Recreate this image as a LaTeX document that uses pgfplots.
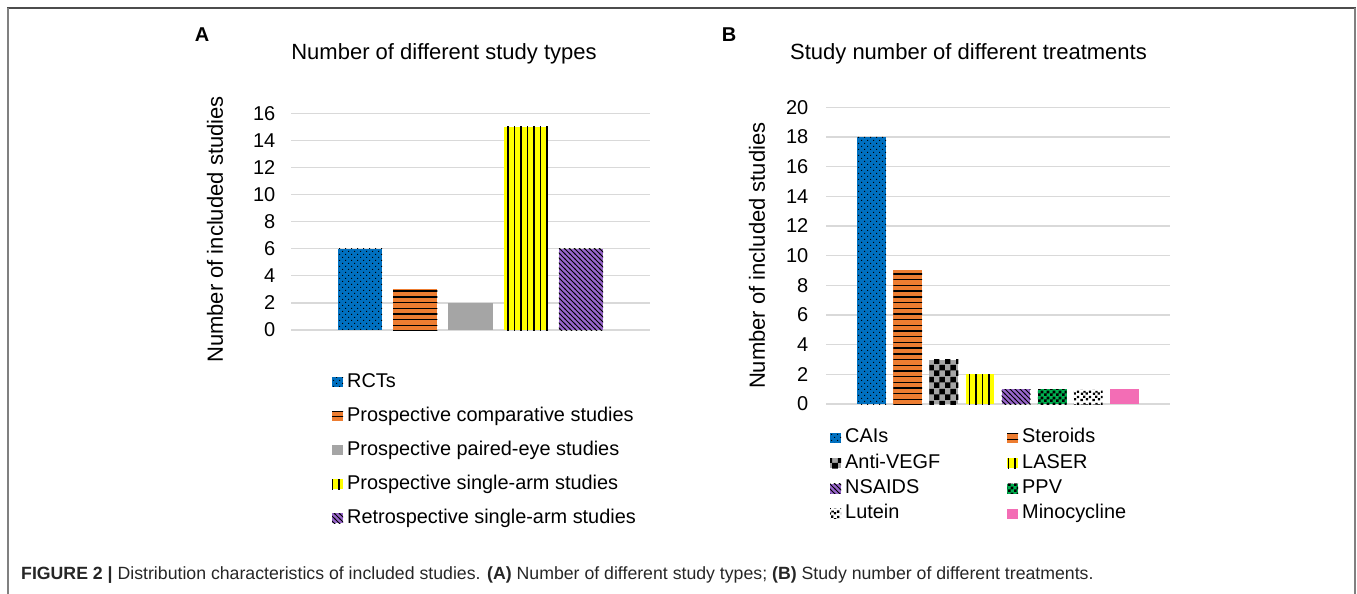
\documentclass[border=0pt]{standalone}
\usepackage{fontspec}
\setmainfont{Liberation Sans}
\usepackage{pgfplots}
\pgfplotsset{compat=1.18}
\usetikzlibrary{patterns}

\definecolor{cBlue}{HTML}{0070C0}
\definecolor{cOrange}{HTML}{ED7D31}
\definecolor{cGray}{HTML}{A5A5A5}
\definecolor{cYellow}{HTML}{FFFF00}
\definecolor{cPurple}{HTML}{9966CC}
\definecolor{cGreen}{HTML}{00B050}
\definecolor{cPink}{HTML}{F36DB5}
\definecolor{gridgray}{HTML}{D9D9D9}

% spreadsheet-like pattern fills (tiles overlap slightly to avoid seams)
\pgfdeclarepatternformonly{fineDots}{\pgfqpoint{-1pt}{-1pt}}{\pgfqpoint{7pt}{7pt}}{\pgfqpoint{6pt}{6pt}}{%
  \pgfpathrectangle{\pgfqpoint{0pt}{0pt}}{\pgfqpoint{1.2pt}{1.2pt}}%
  \pgfpathrectangle{\pgfqpoint{3pt}{3pt}}{\pgfqpoint{1.2pt}{1.2pt}}%
  \pgfusepath{fill}}
\pgfdeclarepatternformonly{wideHoriz}{\pgfqpoint{-0.5pt}{0pt}}{\pgfqpoint{6.2pt}{5.7pt}}{\pgfqpoint{5.7pt}{5.7pt}}{%
  \pgfpathrectangle{\pgfqpoint{-0.5pt}{0pt}}{\pgfqpoint{6.7pt}{1.4pt}}%
  \pgfusepath{fill}}
\pgfdeclarepatternformonly{wideVert}{\pgfqpoint{0pt}{-0.5pt}}{\pgfqpoint{6.5pt}{7pt}}{\pgfqpoint{6.5pt}{6.5pt}}{%
  \pgfpathrectangle{\pgfqpoint{0pt}{-0.5pt}}{\pgfqpoint{1.5pt}{7.5pt}}%
  \pgfusepath{fill}}
\pgfdeclarepatternformonly{wideDownDiag}{\pgfqpoint{-1pt}{-1pt}}{\pgfqpoint{6pt}{6pt}}{\pgfqpoint{5pt}{5pt}}{%
  \pgfsetlinewidth{1.0pt}%
  \pgfpathmoveto{\pgfqpoint{-1pt}{6pt}}\pgfpathlineto{\pgfqpoint{6pt}{-1pt}}%
  \pgfusepath{stroke}}
\pgfdeclarepatternformonly{bigChecker}{\pgfqpoint{0pt}{0pt}}{\pgfqpoint{11.4pt}{11.4pt}}{\pgfqpoint{11.4pt}{11.4pt}}{%
  \pgfpathrectangle{\pgfqpoint{0pt}{0pt}}{\pgfqpoint{5.7pt}{5.7pt}}%
  \pgfpathrectangle{\pgfqpoint{5.7pt}{5.7pt}}{\pgfqpoint{5.7pt}{5.7pt}}%
  \pgfusepath{fill}}
\pgfdeclarepatternformonly{smallChecker}{\pgfqpoint{0pt}{0pt}}{\pgfqpoint{6pt}{6pt}}{\pgfqpoint{6pt}{6pt}}{%
  \pgfpathrectangle{\pgfqpoint{0pt}{0pt}}{\pgfqpoint{3pt}{3pt}}%
  \pgfpathrectangle{\pgfqpoint{3pt}{3pt}}{\pgfqpoint{3pt}{3pt}}%
  \pgfusepath{fill}}
\pgfdeclarepatternformonly{confetti}{\pgfqpoint{0pt}{0pt}}{\pgfqpoint{12pt}{12pt}}{\pgfqpoint{12pt}{12pt}}{%
  \pgfpathrectangle{\pgfqpoint{0.5pt}{0.8pt}}{\pgfqpoint{2.4pt}{2.4pt}}%
  \pgfpathrectangle{\pgfqpoint{6.2pt}{1.6pt}}{\pgfqpoint{2.4pt}{2.4pt}}%
  \pgfpathrectangle{\pgfqpoint{3.2pt}{4.4pt}}{\pgfqpoint{2.4pt}{2.4pt}}%
  \pgfpathrectangle{\pgfqpoint{9.4pt}{4.0pt}}{\pgfqpoint{2.4pt}{2.4pt}}%
  \pgfpathrectangle{\pgfqpoint{0.8pt}{7.6pt}}{\pgfqpoint{2.4pt}{2.4pt}}%
  \pgfpathrectangle{\pgfqpoint{6.0pt}{7.8pt}}{\pgfqpoint{2.4pt}{2.4pt}}%
  \pgfpathrectangle{\pgfqpoint{3.6pt}{9.9pt}}{\pgfqpoint{2.4pt}{1.8pt}}%
  \pgfpathrectangle{\pgfqpoint{9.3pt}{9.6pt}}{\pgfqpoint{2.4pt}{2.4pt}}%
  \pgfusepath{fill}}

\pgfplotsset{
  panel/.style={
    scale only axis, ybar, ymin=0,
    axis line style={draw=none}, major tick length=0pt, tick style={draw=none},
    xtick=\empty, ymajorgrids, grid style={line width=1.3pt, draw=gridgray},
    tick label style={font=\fontsize{20pt}{24pt}\selectfont},
    /pgf/number format/assume math mode=true,
    yticklabel style={anchor=east, inner sep=0pt},
    label style={font=\fontsize{22pt}{26pt}\selectfont},
    title style={font=\fontsize{22pt}{26pt}\selectfont, anchor=center},
    legend cell align=left,
    legend style={draw=none, fill=none, inner sep=0pt,
      font=\fontsize{19.9pt}{23pt}\selectfont,
      nodes={inner sep=0pt, text height=15pt, text depth=5pt}},
  },
  onebar/.style={bar shift=0pt, bar width=0.8, draw=none,
    legend image code/.code={\fill[##1] (0pt,-5pt) rectangle (11pt,5pt); \path (15pt,0pt);}},
  sBlueDots/.style={fill=cBlue, postaction={pattern=fineDots, pattern color=black}},
  sOrangeLines/.style={fill=cOrange, postaction={pattern=wideHoriz, pattern color=black}},
  sGraySolid/.style={fill=cGray},
  sYellowLines/.style={fill=cYellow, postaction={pattern=wideVert, pattern color=black}},
  sPurpleDiag/.style={fill=cPurple, postaction={pattern=wideDownDiag, pattern color=black}},
  sChecker/.style={fill=cGray, postaction={pattern=bigChecker, pattern color=black}},
  sGreenChecker/.style={fill=cGreen, postaction={pattern=smallChecker, pattern color=black}},
  sConfetti/.style={fill=white, postaction={pattern=confetti, pattern color=black}},
  sPink/.style={fill=cPink},
}

\begin{document}
\begin{tikzpicture}
\useasboundingbox (0pt,0pt) rectangle (1357pt,-594pt);

% outer frame
\draw[black!70, line width=1.4pt] (7pt,-8pt) -- (1356pt,-8pt);
\draw[black!50, line width=2pt] (7.5pt,-8pt) -- (7.5pt,-594pt);
\draw[black!50, line width=2pt] (1355.3pt,-8pt) -- (1355.3pt,-594pt);

% panel A: study types
\begin{axis}[panel,
  at={(291pt,-330pt)}, anchor=south west,
  width=359pt, height=216.7pt,
  xmin=-0.25, xmax=6.25, ymax=16, ytick={0,2,...,16},
  yticklabel style={xshift=-15.5pt},
  ylabel={Number of included studies},
  ylabel style={at={(axis description cs:-0.2117,0.4638)}, anchor=center},
  title={Number of different study types},
  title style={at={(axis description cs:0.4262,1.246)}},
  legend style={at={(axis description cs:0.1142,-0.1938)}, anchor=north west, row sep=14pt},
]
\addplot[onebar, sBlueDots] coordinates {(1,6)};
\addlegendentry{RCTs}
\addplot[onebar, sOrangeLines] coordinates {(2,3)};
\addlegendentry{Prospective comparative studies}
\addplot[onebar, sGraySolid] coordinates {(3,2)};
\addlegendentry{Prospective paired-eye studies}
\addplot[onebar, sYellowLines] coordinates {(4,15)};
\addlegendentry{Prospective single-arm studies}
\addplot[onebar, sPurpleDiag] coordinates {(5,6)};
\addlegendentry{Retrospective single-arm studies}
\end{axis}

% panel B: treatments
\begin{axis}[panel,
  at={(826pt,-404pt)}, anchor=south west,
  width=344pt, height=296.7pt,
  xmin=-0.265, xmax=9.265, ymax=20, ytick={0,2,...,20},
  yticklabel style={xshift=-17.5pt},
  ylabel={Number of included studies},
  ylabel style={at={(axis description cs:-0.2006,0.5)}, anchor=center},
  title={Study number of different treatments},
  title style={at={(axis description cs:0.4142,1.1594)}},
  legend columns=2,
  legend style={at={(axis description cs:0.01163,-0.0799)}, anchor=north west, row sep=5.3pt,
    nodes={text width=162pt}},
]
\addplot[onebar, sBlueDots] coordinates {(1,18)};
\addlegendentry{CAIs}
\addplot[onebar, sOrangeLines] coordinates {(2,9)};
\addlegendentry{Steroids}
\addplot[onebar, sChecker] coordinates {(3,3)};
\addlegendentry{Anti-VEGF}
\addplot[onebar, sYellowLines] coordinates {(4,2)};
\addlegendentry{LASER}
\addplot[onebar, sPurpleDiag] coordinates {(5,1)};
\addlegendentry{NSAIDS}
\addplot[onebar, sGreenChecker] coordinates {(6,1)};
\addlegendentry{PPV}
\addplot[onebar, sConfetti] coordinates {(7,1)};
\addlegendentry{Lutein}
\addplot[onebar, sPink] coordinates {(8,1)};
\addlegendentry{Minocycline}
\end{axis}

% panel letters and figure caption
\node[font=\fontsize{20pt}{24pt}\selectfont\bfseries] at (202pt,-35pt) {A};
\node[font=\fontsize{20pt}{24pt}\selectfont\bfseries] at (729pt,-35pt) {B};
\node[anchor=base west, inner sep=0pt, font=\fontsize{17.7pt}{21pt}\selectfont, text=black!85] at (21pt,-579pt)
  {\textbf{FIGURE 2 |} Distribution characteristics of included studies. \textbf{(A)} Number of different study types; \textbf{(B)} Study number of different treatments.};
\end{tikzpicture}
\end{document}
